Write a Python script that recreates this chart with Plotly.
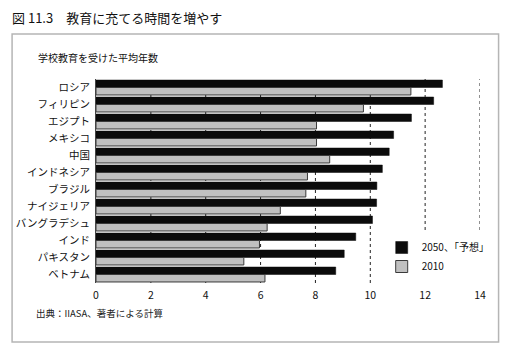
import plotly.graph_objects as go

categories = ["ロシア", "フィリピン", "エジプト", "メキシコ", "中国", "インドネシア",
              "ブラジル", "ナイジェリア", "バングラデシュ", "インド", "パキスタン", "ベトナム"]
values_2050 = [12.63, 12.31, 11.50, 10.85, 10.69, 10.44, 10.24, 10.23, 10.08, 9.47, 9.05, 8.74]
values_2010 = [11.48, 9.75, 8.04, 8.04, 8.52, 7.71, 7.65, 6.72, 6.24, 5.96, 5.39, 6.16]
x_ticks = [0, 2, 4, 6, 8, 10, 12, 14]
series_names = ["2050、「予想」", "2010"]

FONT = "Noto Sans CJK JP"
W, H = 509, 356
L, R, T, B = 96, 480.4, 79, 283  # plot area in px

fig = go.Figure()
fig.add_trace(go.Bar(y=categories, x=values_2050, orientation="h", name=series_names[0],
                     marker=dict(color="#0b0b0b", line=dict(color="#0b0b0b", width=0.5))))
fig.add_trace(go.Bar(y=categories, x=values_2010, orientation="h", name=series_names[1],
                     marker=dict(color="#c0c0c0", line=dict(color="#3a3a3a", width=1))))

def px2x(px):
    return (px - L) / (R - L)

def py2y(py):
    return (B - py) / (B - T)

shapes = []
for t in x_ticks[1:]:
    y0 = py2y(230) if t >= 12 else 0
    shapes.append(dict(type="line", xref="x", yref="paper", x0=t, x1=t, y0=y0, y1=1,
                       line=dict(color="#222", width=1, dash="dot"), layer="below"))
# outer frame
shapes.append(dict(type="rect", xref="paper", yref="paper",
                   x0=px2x(12), x1=px2x(499), y0=py2y(342), y1=py2y(34),
                   line=dict(color="#b5b5b5", width=1.5)))

fig.update_layout(
    width=W, height=H,
    margin=dict(l=L, r=W - R, t=T, b=H - B, autoexpand=False),
    paper_bgcolor="white", plot_bgcolor="white",
    barmode="group", bargap=0.12, bargroupgap=0,
    font=dict(family=FONT, color="#111", size=11),
    title=dict(text="図 11.3　教育に充てる時間を増やす", x=12 / W, xref="container",
               y=1 - 18 / H, yref="container", xanchor="left", yanchor="middle",
               font=dict(size=13, family=FONT, color="#111")),
    xaxis=dict(range=[0, 14], tickvals=x_ticks, showgrid=False, zeroline=False,
               showline=False, ticks="", tickfont=dict(size=10.5, family=FONT),
               ticklabelstandoff=4, automargin=False),
    yaxis=dict(autorange="reversed", showgrid=False, showline=True, linecolor="#444",
               linewidth=1, ticks="", tickfont=dict(size=10.5, family=FONT),
               ticklabelstandoff=3, automargin=False),
    legend=dict(x=px2x(382), y=py2y(233), xanchor="left", yanchor="top",
                traceorder="normal", font=dict(size=10, family=FONT),
                bgcolor="rgba(0,0,0,0)", itemwidth=30, tracegroupgap=4),
    shapes=shapes,
    annotations=[
        dict(text="学校教育を受けた平均年数", xref="paper", yref="paper",
             x=px2x(36), y=py2y(58), xanchor="left", yanchor="middle",
             showarrow=False, font=dict(size=10, family=FONT, color="#111")),
        dict(text="出典：IIASA、著者による計算", xref="paper", yref="paper",
             x=px2x(34), y=py2y(313), xanchor="left", yanchor="middle",
             showarrow=False, font=dict(size=9.5, family=FONT, color="#222")),
    ],
)

fig.write_html("out.html", config={"displayModeBar": False},
               post_script="document.body.style.margin='0';")
